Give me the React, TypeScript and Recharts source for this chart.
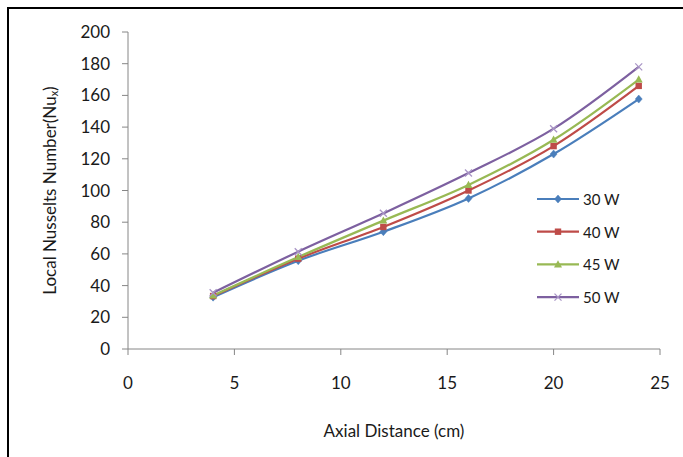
import React from "react";
import { LineChart, Line, XAxis, YAxis, Legend } from "recharts";

const distances = [4, 8, 12, 16, 20, 24];
const w30 = [32.7, 55.7, 74, 95, 123, 157.7];
const w40 = [33.4, 57, 77, 100, 128, 166];
const w45 = [33.8, 58, 81, 103.5, 132, 170];
const w50 = [35.5, 61.4, 85.6, 111, 139, 178];
const xTicks = [0, 5, 10, 15, 20, 25];
const yTicks = [0, 20, 40, 60, 80, 100, 120, 140, 160, 180, 200];

const data = distances.map((d, i) => ({
  x: d,
  w30: w30[i],
  w40: w40[i],
  w45: w45[i],
  w50: w50[i],
}));

const FONT = "Lato, 'Open Sans', sans-serif";

type Shape = "diamond" | "square" | "triangle" | "cross";

const series: { key: string; name: string; color: string; shape: Shape }[] = [
  { key: "w30", name: "30 W", color: "#4a7ebb", shape: "diamond" },
  { key: "w40", name: "40 W", color: "#be4b48", shape: "square" },
  { key: "w45", name: "45 W", color: "#98b954", shape: "triangle" },
  { key: "w50", name: "50 W", color: "#7d60a0", shape: "cross" },
];

function marker(shape: Shape, cx: number, cy: number, color: string, key?: any) {
  const s = 3.5;
  if (shape === "diamond")
    return (
      <path key={key} d={`M${cx},${cy - s - 0.5} L${cx + s},${cy} L${cx},${cy + s + 0.5} L${cx - s},${cy} Z`} fill={color} stroke={color} strokeWidth={0.5} />
    );
  if (shape === "square")
    return <rect key={key} x={cx - 3.2} y={cy - 3.2} width={6.4} height={6.4} fill={color} />;
  if (shape === "triangle")
    return (
      <path key={key} d={`M${cx},${cy - 4.2} L${cx + 4},${cy + 3} L${cx - 4},${cy + 3} Z`} fill={color} />
    );
  return (
    <path key={key} d={`M${cx - 3.5},${cy - 3.5} L${cx + 3.5},${cy + 3.5} M${cx + 3.5},${cy - 3.5} L${cx - 3.5},${cy + 3.5}`} stroke="#a995c6" strokeWidth={1.3} fill="none" />
  );
}

const makeDot = (shape: Shape, color: string) => (props: any) => {
  const { cx, cy, index } = props;
  if (cx == null || cy == null) return <g key={index} />;
  return marker(shape, cx, cy, color, index);
};

const renderLegend = () => (
  <svg width={110} height={120} style={{ overflow: "visible", display: "block" }}>
    {series.map((s, i) => {
      const y = 8 + i * 32.7;
      return (
        <g key={s.key}>
          <line x1={2} y1={y} x2={44} y2={y} stroke={s.color} strokeWidth={2.2} />
          {marker(s.shape, 23, y, s.color)}
          <text x={48} y={y} dominantBaseline="central" fontSize={15} fontFamily={FONT} fill="#1a1a1a">
            {s.name}
          </text>
        </g>
      );
    })}
  </svg>
);

const YLabel = (props: any) => {
  const vb = props.viewBox || { x: 0, y: 32, width: 128, height: 317 };
  const cx = 49;
  const cy = vb.y + vb.height / 2;
  return (
    <text
      x={cx}
      y={cy}
      transform={`rotate(-90, ${cx}, ${cy})`}
      textAnchor="middle"
      dominantBaseline="central"
      fontSize={17}
      fontFamily={FONT}
      fill="#1a1a1a"
    >
      Local Nusselts Number(Nu
      <tspan fontSize={11} dy={4}>x</tspan>
      <tspan dy={-4}>)</tspan>
    </text>
  );
};

const XLabel = (props: any) => {
  const vb = props.viewBox || { x: 128, y: 349, width: 532, height: 60 };
  return (
    <text
      x={vb.x + vb.width / 2}
      y={430}
      textAnchor="middle"
      dominantBaseline="central"
      fontSize={17}
      fontFamily={FONT}
      fill="#1a1a1a"
    >
      Axial Distance (cm)
    </text>
  );
};

export default function App() {
  return (
    <div style={{ position: "absolute", left: 0, top: 0, width: 683, height: 457, background: "#fff", overflow: "hidden" }}>
      <div
        style={{
          position: "absolute",
          left: 7,
          top: 7,
          width: 700,
          height: 480,
          border: "2px solid #000",
          boxSizing: "border-box",
        }}
      />
      <div style={{ position: "absolute", left: 0, top: 0 }}>
        <LineChart width={683} height={457} data={data} margin={{ top: 32, right: 23, bottom: 48, left: 0 }}>
          <XAxis
            dataKey="x"
            type="number"
            domain={[0, 25]}
            ticks={xTicks}
            interval={0}
            height={60}
            stroke="#868686"
            tickSize={6}
            tickMargin={22}
            tick={{ fill: "#1a1a1a", fontSize: 17, fontFamily: FONT }}
            label={<XLabel />}
            allowDataOverflow
          />
          <YAxis
            type="number"
            domain={[0, 200]}
            ticks={yTicks}
            interval={0}
            width={128}
            stroke="#868686"
            tickSize={6}
            tickMargin={12}
            tick={{ fill: "#1a1a1a", fontSize: 17, fontFamily: FONT }}
            label={<YLabel />}
          />
          <Legend
            layout="vertical"
            align="center"
            verticalAlign="middle"
            content={renderLegend}
            wrapperStyle={{ position: "absolute", left: 535, top: 191, width: 110, height: 120 }}
          />
          {series.map((s) => (
            <Line
              key={s.key}
              dataKey={s.key}
              name={s.name}
              type="monotone"
              stroke={s.color}
              strokeWidth={2.2}
              dot={makeDot(s.shape, s.color)}
              activeDot={false}
              isAnimationActive={false}
            />
          ))}
        </LineChart>
      </div>
    </div>
  );
}
